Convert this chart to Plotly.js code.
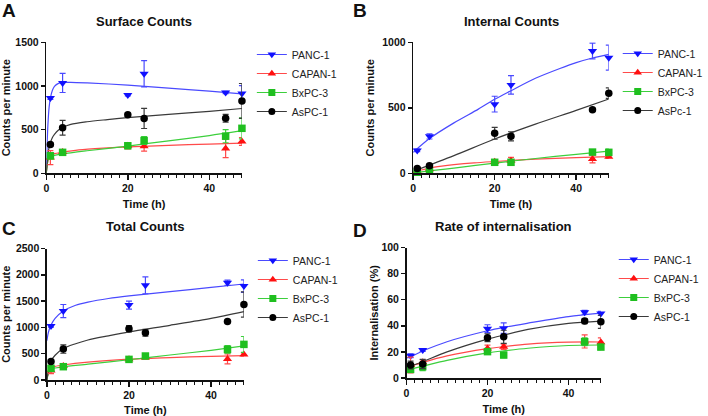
<!DOCTYPE html>
<html>
<head>
<meta charset="utf-8">
<script src="https://cdn.plot.ly/plotly-3.0.1.min.js"></script>
<style>html,body{margin:0;padding:0;background:#fff;}#chart{width:708px;height:416px;}</style>
</head>
<body>
<div id="chart"></div>
<script>
// ---------- DATA ----------
const times = [1, 4, 20, 24, 44, 48];
const lineNames = ['PANC-1', 'CAPAN-1', 'BxPC-3', 'AsPC-1'];
const lineNamesB = ['PANC-1', 'CAPAN-1', 'BxPC-3', 'AsPc-1'];

// A: Surface counts (cpm)
const surfPANC = [862, 1035, 897, 1140, 925, 915];
const surfPANCerr = [15, 110, 10, 150, 12, 90];
const surfCAPAN = [180, 245, 315, 310, 285, 365];
const surfCAPANerr = [80, 20, 35, 55, 105, 45];
const surfBxPC = [200, 240, 315, 375, 425, 515];
const surfBxPCerr = [35, 15, 30, 45, 75, 120];
const surfAsPC = [330, 522, 670, 628, 630, 828];
const surfAsPCerr = [15, 85, 20, 115, 45, 200];
// A: fitted curves
const surfFitPANCx = [0, 0.2, 0.4, 0.7, 1, 1.5, 2, 3, 4, 6, 10, 20, 30, 40, 48];
const surfFitPANCy = [0, 330, 560, 760, 860, 950, 995, 1030, 1040, 1042, 1035, 1010, 975, 940, 910];
const surfFitCAPANx = [0, 0.2, 0.5, 1, 2, 4, 8, 14, 20, 30, 40, 48];
const surfFitCAPANy = [0, 90, 160, 200, 225, 242, 268, 288, 302, 320, 335, 345];
const surfFitBxPCx = [0, 0.2, 0.5, 1, 2, 4, 10, 20, 30, 40, 48];
const surfFitBxPCy = [0, 90, 160, 192, 205, 222, 258, 312, 372, 432, 488];
const surfFitAsPCx = [0, 0.2, 0.4, 0.7, 1, 1.5, 2, 3, 4, 6, 10, 15, 20, 30, 40, 48];
const surfFitAsPCy = [0, 120, 220, 300, 350, 410, 445, 495, 525, 560, 590, 615, 638, 675, 710, 742];

// B: Internal counts (cpm)
const intPANC = [175, 282, 528, 675, 934, 883];
const intPANCerr = [10, 20, 60, 70, 60, 95];
const intCAPAN = [15, 30, 88, 96, 109, 127];
const intCAPANerr = [5, 8, 15, 25, 30, 12];
const intBxPC = [8, 20, 84, 84, 162, 160];
const intBxPCerr = [4, 6, 10, 15, 10, 25];
const intAsPC = [36, 58, 305, 282, 485, 612];
const intAsPCerr = [8, 8, 45, 35, 5, 40];
const intFitPANCx = [0, 4, 10, 16, 20, 24, 30, 36, 40, 44, 48];
const intFitPANCy = [160, 265, 385, 490, 565, 630, 725, 800, 845, 880, 908];
const intFitCAPANx = [0, 2, 4, 7, 10, 15, 20, 30, 40, 48];
const intFitCAPANy = [8, 25, 40, 55, 66, 80, 90, 108, 120, 128];
const intFitBxPCx = [0, 5, 10, 20, 30, 40, 48];
const intFitBxPCy = [3, 22, 40, 78, 113, 145, 170];
const intFitAsPCx = [0, 10, 20, 30, 40, 48];
const intFitAsPCy = [15, 135, 262, 375, 480, 567];

// C: Total counts (cpm)
const totPANC = [1025, 1310, 1424, 1800, 1848, 1785];
const totPANCerr = [20, 125, 75, 160, 50, 120];
const totCAPAN = [180, 265, 395, 430, 400, 487];
const totCAPANerr = [60, 20, 30, 30, 95, 30];
const totBxPC = [222, 253, 392, 456, 582, 677];
const totBxPCerr = [40, 15, 30, 25, 70, 150];
const totAsPC = [354, 589, 975, 899, 1114, 1437];
const totAsPCerr = [20, 80, 60, 65, 10, 240];
const totFitPANCx = [0, 0.3, 0.6, 1, 2, 4, 7, 10, 15, 20, 30, 40, 48];
const totFitPANCy = [750, 880, 970, 1045, 1170, 1310, 1420, 1480, 1550, 1600, 1680, 1760, 1825];
const totFitCAPANx = [0, 0.3, 0.7, 1, 2, 4, 10, 20, 30, 40, 48];
const totFitCAPANy = [0, 120, 200, 230, 258, 285, 340, 395, 425, 450, 465];
const totFitBxPCx = [0, 0.3, 0.7, 1, 2, 4, 10, 20, 30, 40, 48];
const totFitBxPCy = [0, 110, 190, 215, 228, 250, 300, 385, 475, 565, 650];
const totFitAsPCx = [0, 0.3, 0.6, 1, 2, 4, 7, 10, 15, 20, 30, 40, 48];
const totFitAsPCy = [0, 150, 270, 360, 470, 600, 690, 760, 840, 915, 1040, 1170, 1300];

// D: Rate of internalisation (%)
const ratePANC = [17.1, 21.4, 37.8, 38.2, 50.3, 49.5];
const ratePANCerr = [1.5, 1, 3, 4, 1.5, 1.5];
const rateCAPAN = [10, 12, 22.7, 24, 28, 27.3];
const rateCAPANerr = [6, 2, 2.5, 2, 5, 3.5];
const rateBxPC = [6.6, 8.7, 20.2, 17.6, 27.8, 23.7];
const rateBxPCerr = [1.5, 3, 1, 2, 3, 2];
const rateAsPC = [10, 10.7, 30.9, 31.6, 43.6, 43.1];
const rateAsPCerr = [3, 3.5, 3, 5, 2, 5];
const rateFitX = [0, 1, 4, 10, 20, 24, 30, 40, 48];
const rateFitPANCy = [15.3, 16.3, 20.7, 27.8, 36.2, 38.8, 42, 47, 49.7];
const rateFitCAPANy = [8, 9, 12, 17, 22.5, 24, 26, 27.5, 27.6];
const rateFitBxPCy = [6, 6.8, 9, 13.5, 19.2, 20.8, 22.8, 24.9, 25.3];
const rateFitAsPCy = [8.5, 9.2, 12.5, 20, 29.8, 32.9, 37.2, 41.8, 43.6];

// ---------- STYLE ----------
const FONT = 'Liberation Sans, Arial, Helvetica, sans-serif';
const markerColors = ['#1010ff', '#ff1010', '#1fbf1f', '#000000'];
const fitColors = ['#4a4aff', '#ff4a4a', '#3ccf3c', '#3a3a3a'];
const symbols = ['triangle-down', 'triangle-up', 'square', 'circle'];
const sizes = [8, 8, 7.5, 7.5];

const traces = [];
function addPanel(idx, pts, errs, fitsX, fitsY, names) {
  const xa = idx === 1 ? 'x' : 'x' + idx;
  const ya = idx === 1 ? 'y' : 'y' + idx;
  const lg = idx === 1 ? 'legend' : 'legend' + idx;
  for (let s = 0; s < 4; s++) {
    traces.push({
      type: 'scatter', mode: 'lines', x: fitsX[s], y: fitsY[s], xaxis: xa, yaxis: ya,
      line: {color: fitColors[s], width: 1.2, shape: 'spline', smoothing: 0.8},
      showlegend: false, hoverinfo: 'skip', cliponaxis: false
    });
  }
  for (let s = 0; s < 4; s++) {
    traces.push({
      type: 'scatter', mode: 'markers', x: times, y: pts[s], xaxis: xa, yaxis: ya,
      marker: {symbol: symbols[s], size: sizes[s], color: markerColors[s]},
      error_y: {type: 'data', array: errs[s], visible: true, color: fitColors[s], thickness: 1.2, width: 3},
      showlegend: false, cliponaxis: false, name: names[s]
    });
  }
  for (let s = 0; s < 4; s++) {
    traces.push({
      type: 'scatter', mode: 'lines+markers', x: [null], y: [null], xaxis: xa, yaxis: ya,
      name: names[s], legend: lg,
      line: {color: fitColors[s], width: 1.2},
      marker: {symbol: symbols[s], size: sizes[s] - 0.5, color: markerColors[s]}
    });
  }
}
addPanel(1, [surfPANC, surfCAPAN, surfBxPC, surfAsPC], [surfPANCerr, surfCAPANerr, surfBxPCerr, surfAsPCerr],
  [surfFitPANCx, surfFitCAPANx, surfFitBxPCx, surfFitAsPCx], [surfFitPANCy, surfFitCAPANy, surfFitBxPCy, surfFitAsPCy], lineNames);
addPanel(2, [intPANC, intCAPAN, intBxPC, intAsPC], [intPANCerr, intCAPANerr, intBxPCerr, intAsPCerr],
  [intFitPANCx, intFitCAPANx, intFitBxPCx, intFitAsPCx], [intFitPANCy, intFitCAPANy, intFitBxPCy, intFitAsPCy], lineNamesB);
addPanel(3, [totPANC, totCAPAN, totBxPC, totAsPC], [totPANCerr, totCAPANerr, totBxPCerr, totAsPCerr],
  [totFitPANCx, totFitCAPANx, totFitBxPCx, totFitAsPCx], [totFitPANCy, totFitCAPANy, totFitBxPCy, totFitAsPCy], lineNames);
addPanel(4, [ratePANC, rateCAPAN, rateBxPC, rateAsPC], [ratePANCerr, rateCAPANerr, rateBxPCerr, rateAsPCerr],
  [rateFitX, rateFitX, rateFitX, rateFitX], [rateFitPANCy, rateFitCAPANy, rateFitBxPCy, rateFitAsPCy], lineNames);

const W = 708, H = 416;
const px = v => v / W, py = v => 1 - v / H;

function xax(dom, anchor) {
  return {
    domain: dom, anchor: anchor, range: [0, 48], tick0: 0, dtick: 20,
    showline: true, linecolor: '#111', linewidth: 1.5, mirror: false,
    ticks: 'outside', ticklen: 5, tickwidth: 1.5, tickcolor: '#111',
    minor: {dtick: 2, ticks: 'outside', ticklen: 3, tickwidth: 1, tickcolor: '#111'},
    showgrid: false, zeroline: false,
    tickfont: {family: FONT, size: 10.5, color: '#111', weight: 'bold'},
    title: {text: 'Time (h)', font: {family: FONT, size: 11, color: '#111', weight: 'bold'}, standoff: 7}
  };
}
function yax(dom, anchor, maxv, dt, ttl, so) {
  return {
    domain: dom, anchor: anchor, range: [0, maxv], tick0: 0, dtick: dt,
    showline: true, linecolor: '#111', linewidth: 1.5,
    ticks: 'outside', ticklen: 4, tickwidth: 1.5, tickcolor: '#111',
    showgrid: false, zeroline: false,
    tickfont: {family: FONT, size: 10.5, color: '#111', weight: 'bold'},
    title: {text: ttl, font: {family: FONT, size: 11, color: '#111', weight: 'bold'}, standoff: so}
  };
}
function leg(xl, ytop) {
  return {x: px(xl), y: py(ytop), xanchor: 'left', yanchor: 'top', bgcolor: 'rgba(0,0,0,0)',
    font: {family: FONT, size: 10.5, color: '#222'}, tracegroupgap: 0, borderwidth: 0};
}

const annots = [];
function addText(t, x, y, size, bold) {
  annots.push({text: t, xref: 'paper', yref: 'paper', x: px(x), y: py(y), xanchor: 'center', yanchor: 'middle',
    showarrow: false, font: {family: FONT, size: size, color: '#111', weight: bold ? 'bold' : 'normal'}});
}
addText('A', 9, 10, 19, true);
addText('B', 363, 10, 19, true);
addText('C', 9, 228, 19, true);
addText('D', 363, 230, 19, true);
addText('Surface Counts', 145.5, 21, 13, true);
addText('Internal Counts', 515.5, 21, 13, true);
addText('Total Counts', 146.5, 227, 13, true);
addText('Rate of internalisation', 508, 227, 13, true);

const layout = {
  width: W, height: H, margin: {l: 0, r: 0, t: 0, b: 0}, paper_bgcolor: '#fff', plot_bgcolor: '#fff',
  font: {family: FONT},
  xaxis: xax([px(46.7), px(244)], 'y'),
  yaxis: yax([py(173.3), py(42.3)], 'x', 1500, 500, 'Counts per minute', 5),
  xaxis2: xax([px(416.7), px(614)], 'y2'),
  yaxis2: yax([py(173.3), py(42.3)], 'x2', 1000, 500, 'Counts per minute', 5),
  xaxis3: xax([px(47.3), px(246)], 'y3'),
  yaxis3: yax([py(380), py(248.5)], 'x3', 2500, 500, 'Counts per minute', 5),
  xaxis4: xax([px(410), px(606)], 'y4'),
  yaxis4: yax([py(378), py(247.5)], 'x4', 100, 20, 'Internalisation (%)', 0),
  legend: leg(254, 40),
  legend2: leg(623, 39),
  legend3: leg(255, 246),
  legend4: leg(619, 245),
  annotations: annots,
  showlegend: true
};

Plotly.newPlot('chart', traces, layout, {staticPlot: true, displayModeBar: false});
</script>
</body>
</html>
